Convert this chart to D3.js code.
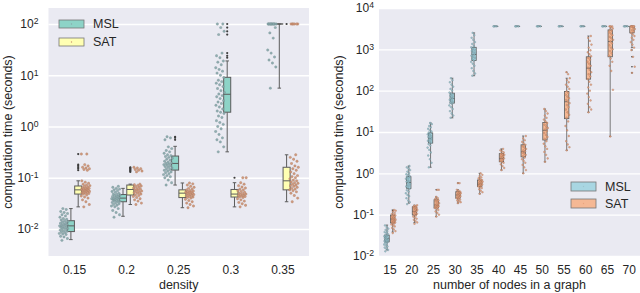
<!DOCTYPE html>
<html>
<head>
<meta charset="utf-8">
<script src="https://cdn.jsdelivr.net/npm/d3@7"></script>
<style>
  body { margin: 0; background: #fff; }
  svg text { font-family: "Liberation Sans", Arial, sans-serif; fill: #262626; }
</style>
</head>
<body>
<div id="chart"></div>
<script>
// ---- data: left panel (density) ----
var densityCats = ["0.15", "0.2", "0.25", "0.3", "0.35"];
// box stats: [whisker low, q1, median, q3, whisker high]
var densMSLBox = [[0.0062, 0.0089, 0.0115, 0.0145, 0.025], [0.0177, 0.034, 0.040, 0.047, 0.062],
  [0.072, 0.141, 0.19, 0.265, 0.41], [0.32, 1.9, 4.25, 9.1, 19], [5.6, 100, 100, 100, 100]];
var densSATBox = [[0.027, 0.048, 0.058, 0.069, 0.087], [0.030, 0.046, 0.059, 0.072, 0.075],
  [0.026, 0.041, 0.050, 0.058, 0.079], [0.027, 0.042, 0.048, 0.059, 0.08], [0.034, 0.058, 0.087, 0.16, 0.28]];
var densMSLFliers = [[], [], [0.55, 0.6, 0.63], [22, 24, 27, 62, 72, 85, 100], []];
var densSATFliers = [[0.14, 0.15, 0.16, 0.17, 0.18, 0.29], [0.13, 0.135, 0.14, 0.145, 0.15, 0.155, 0.16], [], [0.1], [100]];
var densMSLPts = [
  [0.006, 0.0065, 0.007, 0.0072, 0.0078, 0.008, 0.0082, 0.0085, 0.0088, 0.009, 0.0092, 0.0095, 0.0098, 0.01, 0.0102, 0.0105, 0.0108, 0.011, 0.0112, 0.0115, 0.0118, 0.012, 0.0123, 0.0126, 0.013, 0.0133, 0.0137, 0.014, 0.0145, 0.015, 0.0155, 0.016, 0.017, 0.018, 0.019, 0.02, 0.021, 0.022, 0.024, 0.025],
  [0.017, 0.019, 0.021, 0.023, 0.025, 0.027, 0.028, 0.029, 0.03, 0.031, 0.032, 0.033, 0.034, 0.035, 0.035, 0.036, 0.037, 0.038, 0.038, 0.039, 0.04, 0.04, 0.041, 0.042, 0.043, 0.044, 0.045, 0.046, 0.047, 0.048, 0.05, 0.052, 0.054, 0.056, 0.058, 0.06, 0.062, 0.065, 0.068],
  [0.072, 0.08, 0.09, 0.1, 0.105, 0.11, 0.115, 0.12, 0.125, 0.13, 0.135, 0.14, 0.145, 0.15, 0.155, 0.16, 0.165, 0.17, 0.175, 0.18, 0.185, 0.19, 0.195, 0.2, 0.21, 0.22, 0.23, 0.24, 0.25, 0.26, 0.27, 0.28, 0.3, 0.32, 0.34, 0.37, 0.4, 0.55, 0.6, 0.63],
  [0.32, 0.4, 0.5, 0.55, 0.6, 0.7, 0.8, 0.9, 1, 1.1, 1.2, 1.3, 1.5, 1.6, 1.8, 1.9, 2, 2.2, 2.4, 2.6, 2.8, 3, 3.2, 3.5, 3.8, 4, 4.3, 4.6, 5, 5.5, 6, 6.5, 7, 7.5, 8, 9, 10, 11, 12, 13, 14, 16, 18, 19, 22, 24, 27, 62, 72, 85, 100, 100],
  [5.6, 14.5, 17.3, 19.8, 22.7, 27, 31, 53, 67, 85, 100, 100, 100, 100, 100, 100, 100, 100, 100, 100, 100, 100]
];
var densSATPts = [
  [0.027, 0.03, 0.034, 0.037, 0.04, 0.042, 0.044, 0.046, 0.048, 0.049, 0.05, 0.051, 0.052, 0.053, 0.054, 0.055, 0.056, 0.057, 0.058, 0.059, 0.06, 0.061, 0.062, 0.063, 0.064, 0.066, 0.068, 0.07, 0.072, 0.075, 0.078, 0.082, 0.087, 0.14, 0.145, 0.15, 0.155, 0.16, 0.17, 0.18, 0.29, 0.29],
  [0.03, 0.032, 0.035, 0.037, 0.039, 0.041, 0.043, 0.045, 0.046, 0.048, 0.05, 0.051, 0.052, 0.054, 0.055, 0.057, 0.058, 0.06, 0.061, 0.063, 0.065, 0.067, 0.069, 0.071, 0.073, 0.075, 0.13, 0.135, 0.14, 0.145, 0.15, 0.155, 0.16],
  [0.026, 0.028, 0.03, 0.032, 0.034, 0.036, 0.038, 0.04, 0.041, 0.042, 0.043, 0.044, 0.045, 0.046, 0.047, 0.048, 0.049, 0.05, 0.051, 0.052, 0.053, 0.054, 0.055, 0.056, 0.058, 0.06, 0.062, 0.065, 0.068, 0.072, 0.076, 0.079],
  [0.027, 0.029, 0.031, 0.033, 0.035, 0.037, 0.039, 0.041, 0.042, 0.043, 0.044, 0.045, 0.046, 0.047, 0.048, 0.049, 0.05, 0.052, 0.054, 0.056, 0.058, 0.06, 0.063, 0.066, 0.07, 0.075, 0.08, 0.1, 0.1],
  [0.034, 0.04, 0.045, 0.05, 0.053, 0.056, 0.058, 0.06, 0.062, 0.065, 0.068, 0.07, 0.072, 0.075, 0.078, 0.08, 0.083, 0.087, 0.09, 0.095, 0.1, 0.105, 0.11, 0.12, 0.13, 0.14, 0.15, 0.16, 0.17, 0.19, 0.21, 0.23, 0.25, 0.28, 100, 100, 100, 100, 100, 100]
];

// ---- data: right panel (number of nodes) ----
var nodeCats = ["15", "20", "25", "30", "35", "40", "45", "50", "55", "60", "65", "70"];
var TO = 3600; // timeout
var nodeMSLBox = [[0.014, 0.022, 0.026, 0.032, 0.056], [0.19, 0.43, 0.6, 0.83, 1.5], [1.4, 5.4, 7, 9.5, 16.6],
  [22, 50, 65, 87, 200], [230, 535, 750, 1120, 2500], [TO, TO, TO, TO, TO], [TO, TO, TO, TO, TO], [TO, TO, TO, TO, TO],
  [TO, TO, TO, TO, TO], [TO, TO, TO, TO, TO], [TO, TO, TO, TO, TO], [TO, TO, TO, TO, TO]];
var nodeSATBox = [[0.038, 0.063, 0.078, 0.098, 0.13], [0.064, 0.098, 0.12, 0.155, 0.17], [0.09, 0.145, 0.17, 0.23, 0.27],
  [0.19, 0.25, 0.3, 0.36, 0.4], [0.32, 0.48, 0.55, 0.69, 1.0], [1.2, 1.9, 2.3, 3.0, 3.9], [1.0, 2.5, 3.3, 4.9, 8],
  [1.9, 6.4, 11, 17, 36], [3.6, 21, 54, 95, 200], [30, 190, 350, 660, 2100], [7.8, 660, 1550, 2950, TO], [1100, 2500, TO, TO, TO]];
var nodeMSLFliers = [[], [], [], [], [], [], [], [], [], [], [], []];
var nodeSATFliers = [[0.125], [], [0.4], [0.58], [], [], [], [], [280], [], [], [270, 380, 660, 960]];
var nodeMSLPts = [
  [0.013, 0.014, 0.015, 0.016, 0.017, 0.018, 0.019, 0.02, 0.021, 0.022, 0.022, 0.023, 0.024, 0.025, 0.025, 0.026, 0.027, 0.028, 0.029, 0.03, 0.031, 0.032, 0.034, 0.036, 0.038, 0.04, 0.043, 0.046, 0.05, 0.055],
  [0.18, 0.2, 0.22, 0.25, 0.28, 0.3, 0.33, 0.36, 0.39, 0.42, 0.45, 0.48, 0.5, 0.53, 0.56, 0.6, 0.63, 0.66, 0.7, 0.74, 0.78, 0.82, 0.86, 0.9, 0.95, 1.0, 1.1, 1.2, 1.3, 1.4, 1.5],
  [1.4, 1.8, 2.2, 2.7, 3.2, 3.7, 4.2, 4.7, 5.1, 5.5, 5.8, 6.1, 6.4, 6.7, 7.0, 7.3, 7.6, 8.0, 8.4, 8.8, 9.2, 9.7, 10.3, 11, 12, 13, 14, 15.5, 16.5],
  [22, 25, 28, 32, 36, 40, 44, 48, 51, 54, 57, 60, 63, 66, 69, 72, 76, 80, 85, 90, 100, 110, 125, 140, 160, 180, 200],
  [230, 260, 300, 350, 400, 450, 500, 540, 580, 620, 660, 700, 740, 780, 820, 870, 920, 980, 1050, 1120, 1200, 1350, 1500, 1700, 1900, 2200, 2500],
  [TO, TO, TO, TO], [TO, TO, TO, TO], [TO, TO, TO, TO], [TO, TO, TO, TO],
  [TO, TO, TO, TO], [TO, TO, TO, TO], [TO, TO, TO, TO]
];
var nodeSATPts = [
  [0.036, 0.04, 0.044, 0.048, 0.052, 0.055, 0.058, 0.061, 0.063, 0.065, 0.067, 0.069, 0.071, 0.073, 0.075, 0.077, 0.079, 0.081, 0.084, 0.087, 0.09, 0.093, 0.096, 0.1, 0.105, 0.11, 0.12, 0.125, 0.13],
  [0.06, 0.065, 0.07, 0.075, 0.08, 0.085, 0.09, 0.095, 0.1, 0.105, 0.11, 0.115, 0.12, 0.125, 0.13, 0.135, 0.14, 0.145, 0.15, 0.155, 0.16, 0.165, 0.17],
  [0.09, 0.1, 0.11, 0.12, 0.13, 0.14, 0.145, 0.15, 0.155, 0.16, 0.165, 0.17, 0.175, 0.18, 0.19, 0.2, 0.21, 0.22, 0.23, 0.24, 0.25, 0.27, 0.4, 0.4],
  [0.19, 0.2, 0.21, 0.22, 0.23, 0.24, 0.25, 0.26, 0.27, 0.28, 0.29, 0.3, 0.31, 0.32, 0.33, 0.34, 0.35, 0.36, 0.38, 0.4, 0.58, 0.58],
  [0.32, 0.35, 0.38, 0.41, 0.44, 0.46, 0.48, 0.5, 0.52, 0.54, 0.55, 0.57, 0.59, 0.61, 0.63, 0.65, 0.67, 0.69, 0.72, 0.76, 0.8, 0.86, 0.92, 1.0],
  [1.2, 1.35, 1.5, 1.65, 1.8, 1.9, 2.0, 2.1, 2.2, 2.3, 2.4, 2.5, 2.6, 2.7, 2.8, 2.9, 3.0, 3.2, 3.4, 3.6, 3.9],
  [1.0, 1.2, 1.4, 1.6, 1.8, 2.0, 2.2, 2.4, 2.6, 2.8, 3.0, 3.2, 3.4, 3.6, 3.9, 4.2, 4.5, 4.9, 5.3, 5.8, 6.3, 7, 8],
  [1.9, 2.3, 2.8, 3.3, 3.9, 4.5, 5.2, 6, 6.8, 7.6, 8.5, 9.5, 10.5, 11.5, 12.5, 13.5, 15, 16.5, 18, 20, 22, 25, 28, 32, 36],
  [3.6, 4.3, 5, 6, 8, 11, 14, 18, 22, 26, 30, 35, 40, 45, 50, 55, 60, 66, 72, 80, 88, 96, 110, 125, 140, 160, 180, 200, 250, 280],
  [30, 35, 40, 48, 58, 70, 85, 100, 120, 140, 165, 190, 220, 250, 280, 320, 360, 400, 450, 500, 560, 620, 680, 760, 850, 950, 1100, 1300, 1600, 1900, 2100],
  [7.8, 105, 300, 400, 500, 600, 700, 800, 900, 1000, 1100, 1250, 1400, 1550, 1700, 1850, 2000, 2200, 2400, 2600, 2800, 3000, 3200, 3400, TO, TO, TO],
  [270, 380, 660, 960, 1100, 1300, 1500, 1700, 1900, 2100, 2300, 2500, 2700, 2900, 3100, 3300, TO, TO, TO, TO, TO, TO]
];

var width = 640, height = 293;
var svg = d3.select("#chart").append("svg")
    .attr("width", width)
    .attr("height", height);

// quasi random jitter in [-0.5, 0.5)
function jit(i) { return ((i * 0.6180339887 + 0.31) % 1) - 0.5; }

function drawPanel(opt) {
  var g = svg.append("g");
  var top = 8, bottom = 256;

  var x = d3.scaleBand().domain(opt.cats).range([opt.x0, opt.x1]);
  var y = d3.scaleLog().domain(opt.yDomain).range([bottom, top]);
  var bw = x.bandwidth();

  g.append("rect")
    .attr("x", opt.x0).attr("y", top)
    .attr("width", opt.x1 - opt.x0).attr("height", bottom - top)
    .attr("fill", "#eaeaf2");

  // grid
  var grid = g.append("g")
    .attr("transform", "translate(" + opt.x0 + ",0)")
    .call(d3.axisLeft(y).tickValues(opt.yTicks).tickSize(-(opt.x1 - opt.x0)).tickFormat(""));
  grid.select(".domain").remove();
  grid.selectAll("line").attr("stroke", "#fff").attr("stroke-width", 1.4);

  // y tick labels
  var ya = g.append("g")
    .attr("transform", "translate(" + opt.x0 + ",0)")
    .call(d3.axisLeft(y).tickValues(opt.yTicks).tickSize(0).tickPadding(opt.yPad).tickFormat(""));
  ya.select(".domain").remove();
  ya.selectAll(".tick text")
    .attr("font-size", opt.fs + "px")
    .style("font-family", "'Liberation Sans', Arial, sans-serif")
    .each(function(d) {
      var t = d3.select(this);
      t.text("10");
      t.append("tspan").attr("dy", "-0.45em").attr("font-size", (opt.fs * 0.72) + "px")
        .text(Math.round(Math.log10(d)));
    });

  // x tick labels
  var xa = g.append("g")
    .attr("transform", "translate(0," + bottom + ")")
    .call(d3.axisBottom(x).tickSize(0).tickPadding(opt.xPad));
  xa.select(".domain").remove();
  xa.selectAll(".tick text")
    .attr("font-size", opt.fs + "px")
    .style("font-family", "'Liberation Sans', Arial, sans-serif");

  // axis labels
  g.append("text")
    .attr("transform", "translate(" + opt.yLabX + "," + ((top + bottom) / 2) + ") rotate(-90)")
    .attr("text-anchor", "middle")
    .attr("font-size", opt.lfs + "px")
    .text("computation time (seconds)");
  g.append("text")
    .attr("x", (opt.x0 + opt.x1) / 2).attr("y", 289)
    .attr("text-anchor", "middle")
    .attr("font-size", opt.lfs + "px")
    .text(opt.xLabel);

  var series = [
    {box: opt.mslBox, pts: opt.mslPts, fl: opt.mslFl, fill: opt.mslFill, pf: opt.mslPt, ps: opt.mslPtS, side: -1},
    {box: opt.satBox, pts: opt.satPts, fl: opt.satFl, fill: opt.satFill, pf: opt.satPt, ps: opt.satPtS, side: 1}
  ];
  var boxW = bw * opt.boxFrac;

  series.forEach(function(s) {
    s.box.forEach(function(st, i) {
      var cx = x(opt.cats[i]) + bw / 2 + s.side * bw * opt.boxOff;
      var bg = g.append("g");
      var lo = st[0], q1 = st[1], med = st[2], q3 = st[3], hi = st[4];
      bg.append("line").attr("x1", cx).attr("x2", cx).attr("y1", y(lo)).attr("y2", y(q1));
      bg.append("line").attr("x1", cx).attr("x2", cx).attr("y1", y(q3)).attr("y2", y(hi));
      bg.append("line").attr("x1", cx - boxW / 4).attr("x2", cx + boxW / 4).attr("y1", y(lo)).attr("y2", y(lo));
      bg.append("line").attr("x1", cx - boxW / 4).attr("x2", cx + boxW / 4).attr("y1", y(hi)).attr("y2", y(hi));
      bg.append("rect")
        .attr("x", cx - boxW / 2).attr("y", y(q3))
        .attr("width", boxW).attr("height", Math.max(0.01, y(q1) - y(q3)))
        .attr("fill", s.fill);
      bg.append("line").attr("x1", cx - boxW / 2).attr("x2", cx + boxW / 2).attr("y1", y(med)).attr("y2", y(med));
      bg.selectAll("line, rect").attr("stroke", "#5c5c5c").attr("stroke-width", opt.lw);
      bg.selectAll("circle").data(s.fl[i]).enter().append("circle")
        .attr("cx", cx).attr("cy", function(d) { return y(d); })
        .attr("r", opt.flR).attr("fill", "#3c3c3c");
    });
  });

  series.forEach(function(s) {
    s.pts.forEach(function(vals, i) {
      var cx = x(opt.cats[i]) + bw / 2 + s.side * bw * opt.ptOff;
      g.append("g").selectAll("circle")
        .data(vals)
        .enter()
        .append("circle")
          .attr("cx", function(d, j) { return cx + jit(j) * bw * opt.ptJit; })
          .attr("cy", function(d) { return y(d); })
          .attr("r", opt.ptR)
          .attr("fill", s.pf)
          .attr("stroke", s.ps)
          .attr("stroke-width", 0.35)
          .attr("opacity", 0.9);
    });
  });

  // legend
  var lg = g.append("g");
  var names = ["MSL", "SAT"];
  names.forEach(function(n, i) {
    var yy = opt.legY + i * opt.legStep;
    lg.append("rect")
      .attr("x", opt.legX).attr("y", yy)
      .attr("width", 25).attr("height", opt.legH)
      .attr("fill", i === 0 ? opt.mslFill : opt.satFill)
      .attr("stroke", "#777").attr("stroke-width", 0.8);
    lg.append("circle")
      .attr("cx", opt.legX + 12.5).attr("cy", yy + opt.legH / 2)
      .attr("r", 0.7).attr("fill", i === 0 ? opt.mslPt : opt.satPt);
    lg.append("text")
      .attr("x", opt.legX + 34).attr("y", yy + opt.legH / 2)
      .attr("dy", "0.35em")
      .attr("font-size", opt.lfs + "px")
      .text(n);
  });
}

drawPanel({
  cats: densityCats, x0: 48.5, x1: 309,
  yDomain: [0.00297, 205], yTicks: [0.01, 0.1, 1, 10, 100],
  yPad: 10, xPad: 9, fs: 12, lfs: 12.5, yLabX: 12, xLabel: "density",
  mslBox: densMSLBox, satBox: densSATBox, mslFl: densMSLFliers, satFl: densSATFliers,
  mslPts: densMSLPts, satPts: densSATPts,
  mslFill: "#8dd3c7", satFill: "#ffffb3",
  mslPt: "#8aa9ac", mslPtS: "#6d8b8e", satPt: "#cf9474", satPtS: "#a8735a",
  boxFrac: 0.135, boxOff: 0.07, ptOff: 0.21, ptJit: 0.17, ptR: 1.2, flR: 1.1, lw: 1,
  legX: 59, legY: 20, legStep: 18, legH: 8
});

drawPanel({
  cats: nodeCats, x0: 379, x1: 640,
  yDomain: [0.01, 10000], yTicks: [0.01, 0.1, 1, 10, 100, 1000, 10000],
  yPad: 5, xPad: 9, fs: 12, lfs: 12.5, yLabX: 343, xLabel: "number of nodes in a graph",
  mslBox: nodeMSLBox, satBox: nodeSATBox, mslFl: nodeMSLFliers, satFl: nodeSATFliers,
  mslPts: nodeMSLPts, satPts: nodeSATPts,
  mslFill: "#a8d6e2", satFill: "#f5b894",
  mslPt: "#9cc6d0", mslPtS: "#5f7f88", satPt: "#eaa47f", satPtS: "#a06a50",
  boxFrac: 0.2, boxOff: 0.13, ptOff: 0.17, ptJit: 0.2, ptR: 0.9, flR: 0.8, lw: 0.8,
  legX: 571, legY: 182, legStep: 17, legH: 9
});
</script>
</body>
</html>
